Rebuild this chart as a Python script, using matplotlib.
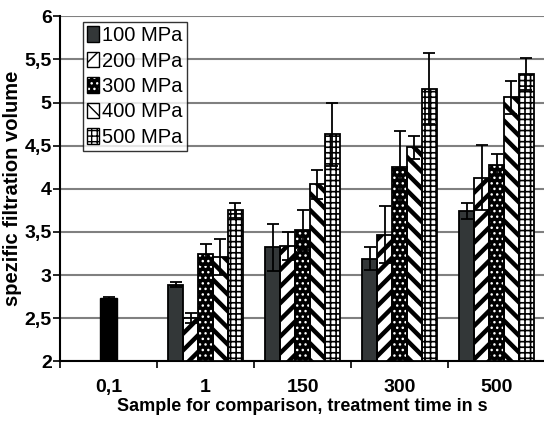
import matplotlib
matplotlib.use("Agg")
import matplotlib.pyplot as plt
from matplotlib.patches import Patch
from matplotlib.legend_handler import HandlerTuple
import numpy as np

plt.rcParams['font.family'] = ['Liberation Sans', 'DejaVu Sans']

categories = ["0,1", "1", "150", "300", "500"]
series = ["100 MPa", "200 MPa", "300 MPa", "400 MPa", "500 MPa"]

comparison_value = 2.73
comparison_err = 0.02

# values for treatment times 1, 150, 300, 500 s
p100 = [2.89, 3.32, 3.19, 3.74]
p200 = [2.50, 3.34, 3.47, 4.13]
p300 = [3.24, 3.52, 4.25, 4.28]
p400 = [3.21, 4.05, 4.48, 5.06]
p500 = [3.75, 4.63, 5.16, 5.33]

e100 = [0.03, 0.27, 0.13, 0.09]
e200 = [0.06, 0.16, 0.33, 0.38]
e300 = [0.12, 0.23, 0.42, 0.12]
e400 = [0.21, 0.17, 0.13, 0.19]
e500 = [0.09, 0.37, 0.41, 0.19]

values = [p100, p200, p300, p400, p500]
errors = [e100, e200, e300, e400, e500]

# face, hatch colour, hatch, hatch linewidth
styles = [
    ("#333738", "#333738", None, 1.0),
    ("white", "black", "//", 3.2),
    ("black", "white", "...", 1.0),
    ("white", "black", "\\\\", 3.2),
    ("white", "black", "+++", 1.2),
]

fig = plt.figure(figsize=(5.44, 4.23), dpi=100)
ax = fig.add_axes([60 / 544, 0.1456, 485 / 544, 0.8161])

ax.set_xlim(-0.5, 4.5)
ax.set_ylim(2, 6)
ax.set_yticks(np.arange(2, 6.01, 0.5))
ax.set_yticklabels(["2", "2,5", "3", "3,5", "4", "4,5", "5", "5,5", "6"],
                   fontweight="bold", fontsize=14)
ax.yaxis.grid(True, color="#808080", linewidth=1.5)
ax.set_axisbelow(True)

ax.set_xticks(np.arange(-0.5, 4.6, 1))
ax.set_xticklabels([])
ax.set_xticks(np.arange(5), minor=True)
ax.set_xticklabels(categories, minor=True, fontweight="bold", fontsize=14)
ax.tick_params(axis="x", which="minor", length=0, pad=13)
ax.tick_params(axis="x", which="major", length=5, width=1.2, direction="out")
ax.tick_params(axis="y", length=5, width=1.2, direction="out", pad=1)

for s in ["top", "right"]:
    ax.spines[s].set_visible(False)
ax.spines["left"].set_linewidth(1.5)
ax.spines["bottom"].set_linewidth(1.5)

errkw = dict(ecolor="black", elinewidth=1.3, capsize=4, capthick=1.3)

ax.bar(0, comparison_value - 2, bottom=2, width=0.178, color="black",
       edgecolor="black", yerr=comparison_err, error_kw=errkw, zorder=3)

w = 0.153
x = np.arange(1, 5)
handles = []
for i, (face, hcol, hatch, hlw) in enumerate(styles):
    pos = x + (i - 2) * w
    h = np.array(values[i]) - 2
    with plt.rc_context({"hatch.linewidth": hlw}):
        ax.bar(pos, h, bottom=2, width=w, color=face, edgecolor=hcol,
               hatch=hatch, linewidth=0, zorder=3)
        ax.bar(pos, h, bottom=2, width=w, fill=False, edgecolor="black",
               linewidth=1.3, zorder=4)
        ax.errorbar(pos, values[i], yerr=errors[i], fmt="none", zorder=5, **errkw)
        fill = Patch(facecolor=face, edgecolor=hcol, hatch=hatch, linewidth=0)
        outline = Patch(fill=False, edgecolor="black", linewidth=1.0)
        handles.append((fill, outline))

leg = ax.legend(handles, series, handler_map={tuple: HandlerTuple(ndivide=1, pad=0)},
                loc="upper left", bbox_to_anchor=(23 / 485, 0.983),
                fontsize=14.5, frameon=True, fancybox=False, edgecolor="black",
                handlelength=0.6, handleheight=0.8, handletextpad=0.15,
                labelspacing=0.32, borderpad=0.2, borderaxespad=0)
leg.get_frame().set_linewidth(1.0)

ax.set_ylabel("spezific filtration volume", fontweight="bold", fontsize=14.5)
ax.yaxis.set_label_coords(-0.078, 0.5)
ax.set_xlabel("Sample for comparison, treatment time in s", fontweight="bold",
              fontsize=13, labelpad=1)

fig.savefig("out.png", dpi=100)
